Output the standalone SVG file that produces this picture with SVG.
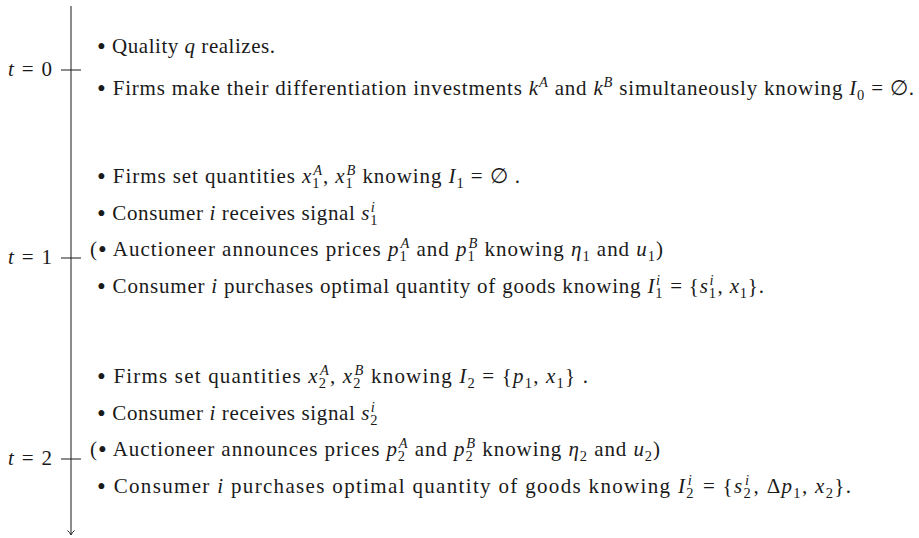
<svg xmlns="http://www.w3.org/2000/svg" width="919" height="538" viewBox="0 0 919 538">
<style>
text{font-family:"Liberation Serif","DejaVu Serif",serif;font-size:21px;fill:#1a1a1a}
.i{font-style:italic}
.s{font-size:14.5px}
.b{font-size:25px}
.ax{stroke:#1a1a1a;stroke-width:1;fill:none}
</style>
<rect width="919" height="538" fill="#fff"/>
<g id="connectors">
<line class="ax" x1="71" y1="6" x2="71" y2="534"/>
<path d="M67.5,530.5 Q70,532.5 71,535 Q72,532.5 74.5,530.5" class="ax"/>
<line class="ax" x1="61" y1="70" x2="81" y2="70"/>
<line class="ax" x1="61" y1="258" x2="81" y2="258"/>
<line class="ax" x1="61" y1="459" x2="81" y2="459"/>
</g>
<g id="t0">
<text x="8" y="76" textLength="44" lengthAdjust="spacing"><tspan class="i">t</tspan> = 0</text>
<text x="97" y="53" textLength="178" lengthAdjust="spacing"><tspan class="b" dy="1.5">•</tspan><tspan dy="-1.5"> Quality </tspan><tspan class="i">q</tspan> realizes.</text>
<text x="97" y="95" textLength="817" lengthAdjust="spacing"><tspan class="b" dy="1.5">•</tspan><tspan dy="-1.5"> Firms make their differentiation investments </tspan><tspan class="i">k</tspan><tspan class="s i" dy="-8.5">A</tspan><tspan dy="8.5"> and </tspan><tspan class="i">k</tspan><tspan class="s i" dy="-8.5">B</tspan><tspan dy="8.5"> simultaneously knowing </tspan><tspan class="i">I</tspan><tspan class="s" dy="5">0</tspan><tspan dy="-5"> = ∅.</tspan></text>
</g>
<g id="t1">
<text x="8" y="264" textLength="44" lengthAdjust="spacing"><tspan class="i">t</tspan> = 1</text>
<text x="97" y="183" textLength="423" lengthAdjust="spacing"><tspan class="b" dy="1.5">•</tspan><tspan dy="-1.5"> Firms set quantities </tspan><tspan class="i">x</tspan><tspan class="s" dy="5">1</tspan><tspan class="s i" dx="-7.25" dy="-13.5">A</tspan><tspan dy="8.5">, </tspan><tspan class="i">x</tspan><tspan class="s" dy="5">1</tspan><tspan class="s i" dx="-7.25" dy="-13.5">B</tspan><tspan dy="8.5"> knowing </tspan><tspan class="i">I</tspan><tspan class="s" dy="5">1</tspan><tspan dy="-5"> = ∅ .</tspan></text>
<text x="97" y="220" textLength="281" lengthAdjust="spacing"><tspan class="b" dy="1.5">•</tspan><tspan dy="-1.5"> Consumer </tspan><tspan class="i">i</tspan> receives signal <tspan class="i">s</tspan><tspan class="s" dy="5">1</tspan><tspan class="s i" dx="-7.25" dy="-13.5">i</tspan></text>
<text x="90" y="256" textLength="573" lengthAdjust="spacing">(<tspan class="b" dy="1.5">•</tspan><tspan dy="-1.5"> Auctioneer announces prices </tspan><tspan class="i">p</tspan><tspan class="s" dy="5">1</tspan><tspan class="s i" dx="-7.25" dy="-13.5">A</tspan><tspan dy="8.5"> and </tspan><tspan class="i">p</tspan><tspan class="s" dy="5">1</tspan><tspan class="s i" dx="-7.25" dy="-13.5">B</tspan><tspan dy="8.5"> knowing </tspan><tspan class="i">η</tspan><tspan class="s" dy="5">1</tspan><tspan dy="-5"> and </tspan><tspan class="i">u</tspan><tspan class="s" dy="5">1</tspan><tspan dy="-5">)</tspan></text>
<text x="97" y="293" textLength="667" lengthAdjust="spacing"><tspan class="b" dy="1.5">•</tspan><tspan dy="-1.5"> Consumer </tspan><tspan class="i">i</tspan> purchases optimal quantity of goods knowing <tspan class="i">I</tspan><tspan class="s" dy="5">1</tspan><tspan class="s i" dx="-7.25" dy="-13.5">i</tspan><tspan dx="3.3" dy="8.5"> = {</tspan><tspan class="i">s</tspan><tspan class="s" dy="5">1</tspan><tspan class="s i" dx="-7.25" dy="-13.5">i</tspan><tspan dx="3.3" dy="8.5">, </tspan><tspan class="i">x</tspan><tspan class="s" dy="5">1</tspan><tspan dy="-5">}.</tspan></text>
</g>
<g id="t2">
<text x="8" y="465" textLength="44" lengthAdjust="spacing"><tspan class="i">t</tspan> = 2</text>
<text x="97" y="383" textLength="491" lengthAdjust="spacing"><tspan class="b" dy="1.5">•</tspan><tspan dy="-1.5"> Firms set quantities </tspan><tspan class="i">x</tspan><tspan class="s" dy="5">2</tspan><tspan class="s i" dx="-7.25" dy="-13.5">A</tspan><tspan dy="8.5">, </tspan><tspan class="i">x</tspan><tspan class="s" dy="5">2</tspan><tspan class="s i" dx="-7.25" dy="-13.5">B</tspan><tspan dy="8.5"> knowing </tspan><tspan class="i">I</tspan><tspan class="s" dy="5">2</tspan><tspan dy="-5"> = {</tspan><tspan class="i">p</tspan><tspan class="s" dy="5">1</tspan><tspan dy="-5">, </tspan><tspan class="i">x</tspan><tspan class="s" dy="5">1</tspan><tspan dy="-5">} .</tspan></text>
<text x="97" y="420" textLength="281" lengthAdjust="spacing"><tspan class="b" dy="1.5">•</tspan><tspan dy="-1.5"> Consumer </tspan><tspan class="i">i</tspan> receives signal <tspan class="i">s</tspan><tspan class="s" dy="5">2</tspan><tspan class="s i" dx="-7.25" dy="-13.5">i</tspan></text>
<text x="90" y="456" textLength="570" lengthAdjust="spacing">(<tspan class="b" dy="1.5">•</tspan><tspan dy="-1.5"> Auctioneer announces prices </tspan><tspan class="i">p</tspan><tspan class="s" dy="5">2</tspan><tspan class="s i" dx="-7.25" dy="-13.5">A</tspan><tspan dy="8.5"> and </tspan><tspan class="i">p</tspan><tspan class="s" dy="5">2</tspan><tspan class="s i" dx="-7.25" dy="-13.5">B</tspan><tspan dy="8.5"> knowing </tspan><tspan class="i">η</tspan><tspan class="s" dy="5">2</tspan><tspan dy="-5"> and </tspan><tspan class="i">u</tspan><tspan class="s" dy="5">2</tspan><tspan dy="-5">)</tspan></text>
<text x="97" y="493" textLength="754" lengthAdjust="spacing"><tspan class="b" dy="1.5">•</tspan><tspan dy="-1.5"> Consumer </tspan><tspan class="i">i</tspan> purchases optimal quantity of goods knowing <tspan class="i">I</tspan><tspan class="s" dy="5">2</tspan><tspan class="s i" dx="-7.25" dy="-13.5">i</tspan><tspan dx="3.3" dy="8.5"> = {</tspan><tspan class="i">s</tspan><tspan class="s" dy="5">2</tspan><tspan class="s i" dx="-7.25" dy="-13.5">i</tspan><tspan dx="3.3" dy="8.5">, Δ</tspan><tspan class="i">p</tspan><tspan class="s" dy="5">1</tspan><tspan dy="-5">, </tspan><tspan class="i">x</tspan><tspan class="s" dy="5">2</tspan><tspan dy="-5">}.</tspan></text>
</g>
</svg>
